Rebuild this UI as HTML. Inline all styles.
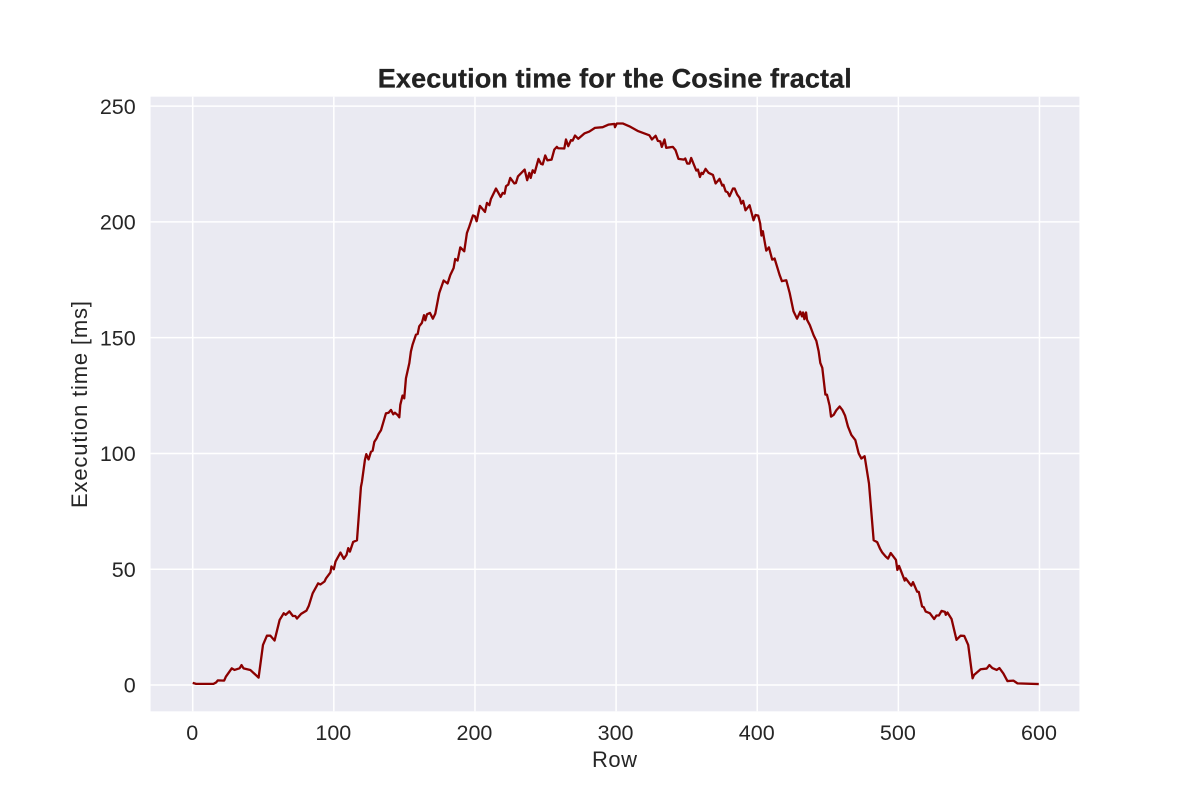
<!DOCTYPE html>
<html lang="en">
<head>
<meta charset="utf-8">
<title>Execution time for the Cosine fractal</title>
<style>
html,body{margin:0;padding:0;background:#fff;}
svg{display:block;}
text{font-family:"Liberation Sans",sans-serif;fill:#262626;}
</style>
</head>
<body>
<svg id="chart" xmlns="http://www.w3.org/2000/svg" width="1200" height="800" viewBox="0 0 1200 800">
  <rect x="150.6" y="96.7" width="928.8" height="614.6" fill="#eaeaf2"></rect>
  <g id="grid"></g>
  <path id="line" fill="none" stroke="#8b0000" stroke-width="2.3" stroke-linejoin="round" stroke-linecap="butt"></path>
  <g id="xticks"></g>
  <g id="yticks"></g>
  <text x="614.8" y="87.5" text-anchor="middle" font-size="27" font-weight="700" textLength="474" lengthAdjust="spacing" style="fill:#222;stroke:#222;stroke-width:0.3">Execution time for the Cosine fractal</text>
  <text x="614.5" y="767" text-anchor="middle" font-size="22" textLength="45" lengthAdjust="spacing">Row</text>
  <text transform="translate(87 404.5) rotate(-90)" text-anchor="middle" font-size="22" textLength="207" lengthAdjust="spacing">Execution time [ms]</text>
</svg>
<script>
const xTickValues = [0, 100, 200, 300, 400, 500, 600];
const yTickValues = [0, 50, 100, 150, 200, 250];
const rows = [0,2.4,14.7,16.6,17.8,22.3,23.5,27.7,29.6,33.2,34.6,36,40.8,46.7,49.8,52.6,55,58,61.6,64.5,65.9,68.5,71,72.7,73.9,76.8,80.6,82.2,85,88.9,90.5,93.4,94.5,97.6,98.3,100,101.2,104.7,107.1,109,110.2,111.4,113.7,116.4,119.2,119.9,122,123,124.6,126.3,127.5,128.7,130.3,131.7,133.4,136.9,138.8,140.5,142.1,143.3,145.2,146.4,147.1,148.7,149.9,151.1,153.5,154.6,155.8,158.2,159.4,160.5,162.4,163.9,164.8,166,168.1,170.2,171.9,174.7,177.8,180.6,182.5,184.9,186,187.7,189.6,192.4,194.3,196,198.6,200,201.2,203.5,207.1,208.5,210.2,211.3,214.9,218.2,219.6,221,222,223.6,225,227.9,229,230.5,235.2,237,238.5,239.5,240.9,242.3,245,246.8,248,249.8,251.3,254.3,256.2,258,259,263.3,264.5,266.1,268,269.2,270.9,273.2,277.5,281,285,290.5,294.5,298.8,299.2,300.5,304.7,309.4,315.3,323.6,325.4,328,329.6,331.3,332.4,334.3,335.5,340.2,342.1,344.2,348,349,350.4,352,353.2,356.8,358,359.4,360.5,361.5,363.4,365.5,368.6,370.5,373.3,375.2,376.1,377.6,379,380.4,382.8,384,385.8,387.5,388.7,390,391.7,394.6,397.4,398.8,400.7,402.1,403,404,404.5,406.4,408.3,410.6,412.3,415.8,417.5,420.6,423,425.7,428.2,430.5,431.7,432.5,433.4,434.6,435.3,437.3,440,441.9,443.5,444.7,446.1,448.3,449.4,451.3,452.3,454.2,456,458.4,460.3,462.2,464.3,466.7,469.5,471.9,473.8,476.1,479.2,482.5,485,487,488.6,491,492.7,494.6,498.3,499.3,500.5,501.4,504.5,505.2,508.1,509.2,510.4,513.3,514.5,516.8,518,519.4,522.3,525.4,527,528.7,530.6,533,533.6,534.8,537.7,541.2,544.1,546.7,549.5,552.6,553.6,558.3,562.6,564.5,566.6,569.7,571.6,574.4,577.3,581.5,584.4,599.5];
const executionTimes = [0.9,0.5,0.5,1.1,2,1.9,3.6,7.2,6.5,7.2,8.6,7.2,6.5,3.2,17.3,21.3,21.3,19.2,28.1,31,30.3,31.8,29.8,29.8,28.7,30.7,32.1,34.1,39.6,43.9,43.4,44.7,46.1,48.6,51.2,50,53.3,57.2,54.5,56.2,59.1,57.6,61.8,62.5,85.5,87.7,97.1,99.7,97.4,100.7,101.2,105,106.5,108.4,110,117.3,117.6,118.8,116.9,117.6,116.6,115.6,121,125,123.8,132.5,139,144,147,151.3,151.6,154.9,156.4,159.7,157.5,160.1,160.7,158.2,160.4,169.3,174.7,173.4,177,180.1,184,183.3,189,187.3,195.2,198,202.8,202.4,200.3,206.9,204.3,208.2,207.2,209.9,214.4,210.8,212.5,212.2,215.4,216.1,219,216.6,216.8,219.7,222.6,218,221.2,219,222.3,221.2,227.2,225.1,224.8,228.7,226.6,226.9,231.2,232.4,231.8,231.7,235.6,232.7,235.3,235.1,237.3,235.9,238.2,239,240.6,240.9,242,242.3,240.9,242.5,242.5,241.3,239.3,237.4,235.6,237.2,235,234.8,232.4,235.6,232,232.4,231,227.2,226.9,227.4,225.2,225.2,227.6,222.2,222.6,219.4,221.2,220.7,222.9,221.2,220.3,216.6,218.6,215.7,216,213.2,212.8,211.1,214.4,214.4,211.8,210.4,207.9,209.1,205,207.2,200.7,203,202.7,199.3,194.1,196,194.1,187.6,189,183.7,184.2,177.2,174.4,174.8,169.3,161.4,158.2,161.2,159.2,160.9,158,160.9,157.7,155.4,151,148.6,144.2,139.1,137,125.4,125.4,120.6,115.9,116.7,118.6,120.3,118.8,116.4,111.6,108,105.8,100,97.8,98.8,87,62.5,61.7,58.9,57.2,55.5,54.6,57,54,49.7,51.4,50,45.1,46.1,43.7,42.9,44.4,40.3,40.2,33.9,33.6,31.7,31,28.5,30,30,32,31.6,30.3,31.3,28.5,19.5,21.3,21.2,17.3,2.9,4.3,6.8,7.1,8.6,7.3,6.5,7.3,5,1.7,1.9,0.7,0.4];

const NS = 'http://www.w3.org/2000/svg';
function xScale(v) { return 192.7 + v * 1.4113; }
function yScale(v) { return 685 - v * 2.3155; }

const grid = document.getElementById('grid');
const xticks = document.getElementById('xticks');
const yticks = document.getElementById('yticks');

xTickValues.forEach(function (v) {
  const l = document.createElementNS(NS, 'line');
  
  
  l.setAttribute('x1', xScale(v));
  l.setAttribute('x2', xScale(v));
  l.setAttribute('y1', 96.7);
  l.setAttribute('y2', 711.3);
  l.setAttribute('stroke', '#ffffff');
  l.setAttribute('stroke-width', '1.5');
  grid.appendChild(l);
  const t = document.createElementNS(NS, 'text');
  
  
  t.setAttribute('x', xScale(v) - 0.5);
  t.setAttribute('y', 740);
  t.setAttribute('text-anchor', 'middle');
  t.setAttribute('font-size', '21.5');
  t.textContent = v;
  xticks.appendChild(t);
});

yTickValues.forEach(function (v) {
  const l = document.createElementNS(NS, 'line');
  
  
  l.setAttribute('x1', 150.6);
  l.setAttribute('x2', 1079.4);
  l.setAttribute('y1', yScale(v));
  l.setAttribute('y2', yScale(v));
  l.setAttribute('stroke', '#ffffff');
  l.setAttribute('stroke-width', '1.5');
  grid.appendChild(l);
  const t = document.createElementNS(NS, 'text');
  
  
  t.setAttribute('x', 135.7);
  t.setAttribute('y', yScale(v) + 7.7);
  t.setAttribute('text-anchor', 'end');
  t.setAttribute('font-size', '21.5');
  t.textContent = v;
  yticks.appendChild(t);
});

document.getElementById('line').setAttribute('d', rows.map(function (r, i) {
  return (i ? 'L' : 'M') + xScale(r).toFixed(2) + ' ' + yScale(executionTimes[i]).toFixed(2);
}).join(' '));
</script>
</body>
</html>
